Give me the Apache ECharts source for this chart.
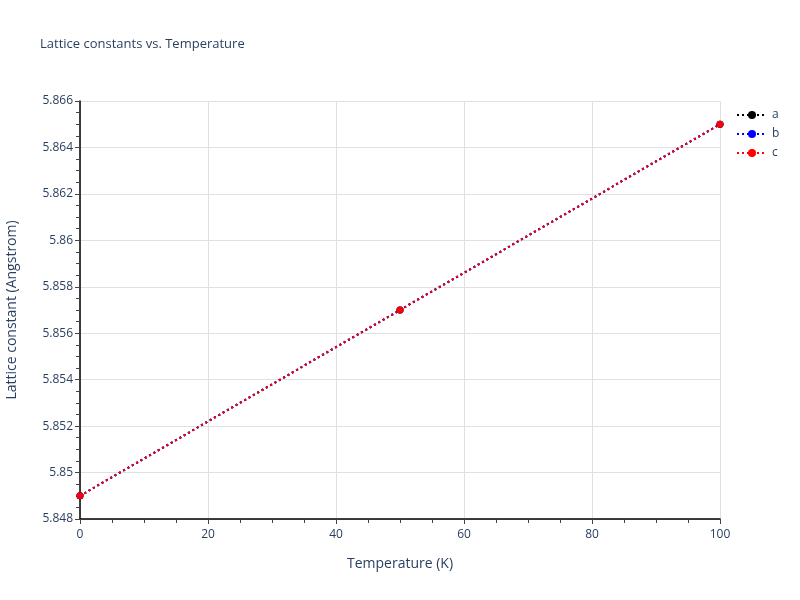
<!DOCTYPE html>
<html><head><meta charset="utf-8">
<script src="https://cdn.jsdelivr.net/npm/echarts@6/dist/echarts.min.js"></script>
<style>html,body{margin:0;padding:0;background:#fff}#c{width:800px;height:600px}</style>
</head><body><div id="c"></div>
<script>
const temperatures = [0, 50, 100];
const aValues = [5.849, 5.857, 5.865];
const bValues = [5.849, 5.857, 5.865];
const cValues = [5.849, 5.857, 5.865];
const seriesNames = ['a', 'b', 'c'];
const seriesColors = ['#000000', '#0000ff', '#ff0000'];
const seriesData = [aValues, bValues, cValues];

const txt = '#2a3f5f';
const font = '"Open Sans", "Noto Sans", sans-serif';
const chart = echarts.init(document.getElementById('c'));
chart.setOption({
  animation: false,
  backgroundColor: '#fff',
  textStyle: {fontFamily: font},
  title: {text: 'Lattice constants vs. Temperature', left: 40, top: 38, padding: 0,
    textStyle: {fontSize: 13, fontWeight: 'normal', color: txt, fontFamily: font}},
  legend: {orient: 'vertical', left: 736, top: 109, padding: 0, itemGap: 7, itemWidth: 30, itemHeight: 10,
    data: seriesNames, textStyle: {color: txt, fontSize: 12, fontFamily: font}},
  grid: {left: 80, right: 80, top: 101, bottom: 81, containLabel: false, outerBoundsMode: 'none'},
  xAxis: {type: 'value', min: 0, max: 100, interval: 20,
    name: 'Temperature (K)', nameLocation: 'middle', nameGap: 38,
    nameTextStyle: {color: txt, fontSize: 14, fontFamily: font},
    axisLine: {show: true, onZero: false, lineStyle: {color: '#000', width: 1.5}},
    axisTick: {show: true, length: 5, lineStyle: {color: '#444'}},
    minorTick: {show: true, splitNumber: 4, length: 4, lineStyle: {color: '#444'}},
    axisLabel: {color: txt, fontSize: 12, margin: 10},
    splitLine: {show: true, lineStyle: {color: '#e0e0e0', width: 1}}},
  yAxis: {type: 'value', min: 5.848, max: 5.866, interval: 0.002,
    name: 'Lattice constant (Angstrom)', nameLocation: 'middle', nameGap: 61,
    nameTextStyle: {color: txt, fontSize: 14, fontFamily: font},
    axisLine: {show: true, onZero: false, lineStyle: {color: '#000', width: 1.5}},
    axisTick: {show: true, length: 5, lineStyle: {color: '#444'}},
    minorTick: {show: true, splitNumber: 4, length: 4, lineStyle: {color: '#444'}},
    axisLabel: {color: txt, fontSize: 12, margin: 7,
      formatter: v => String(parseFloat(v.toFixed(3)))},
    splitLine: {show: true, lineStyle: {color: '#e0e0e0', width: 1}}},
  series: seriesNames.map((n, i) => ({
    name: n, type: 'line',
    data: temperatures.map((t, j) => [t, seriesData[i][j]]),
    symbol: 'circle', symbolSize: 7, showSymbol: true,
    itemStyle: {color: seriesColors[i]},
    lineStyle: {color: seriesColors[i], width: 2, type: [2, 3]},
    clip: false
  }))
});
</script></body></html>
